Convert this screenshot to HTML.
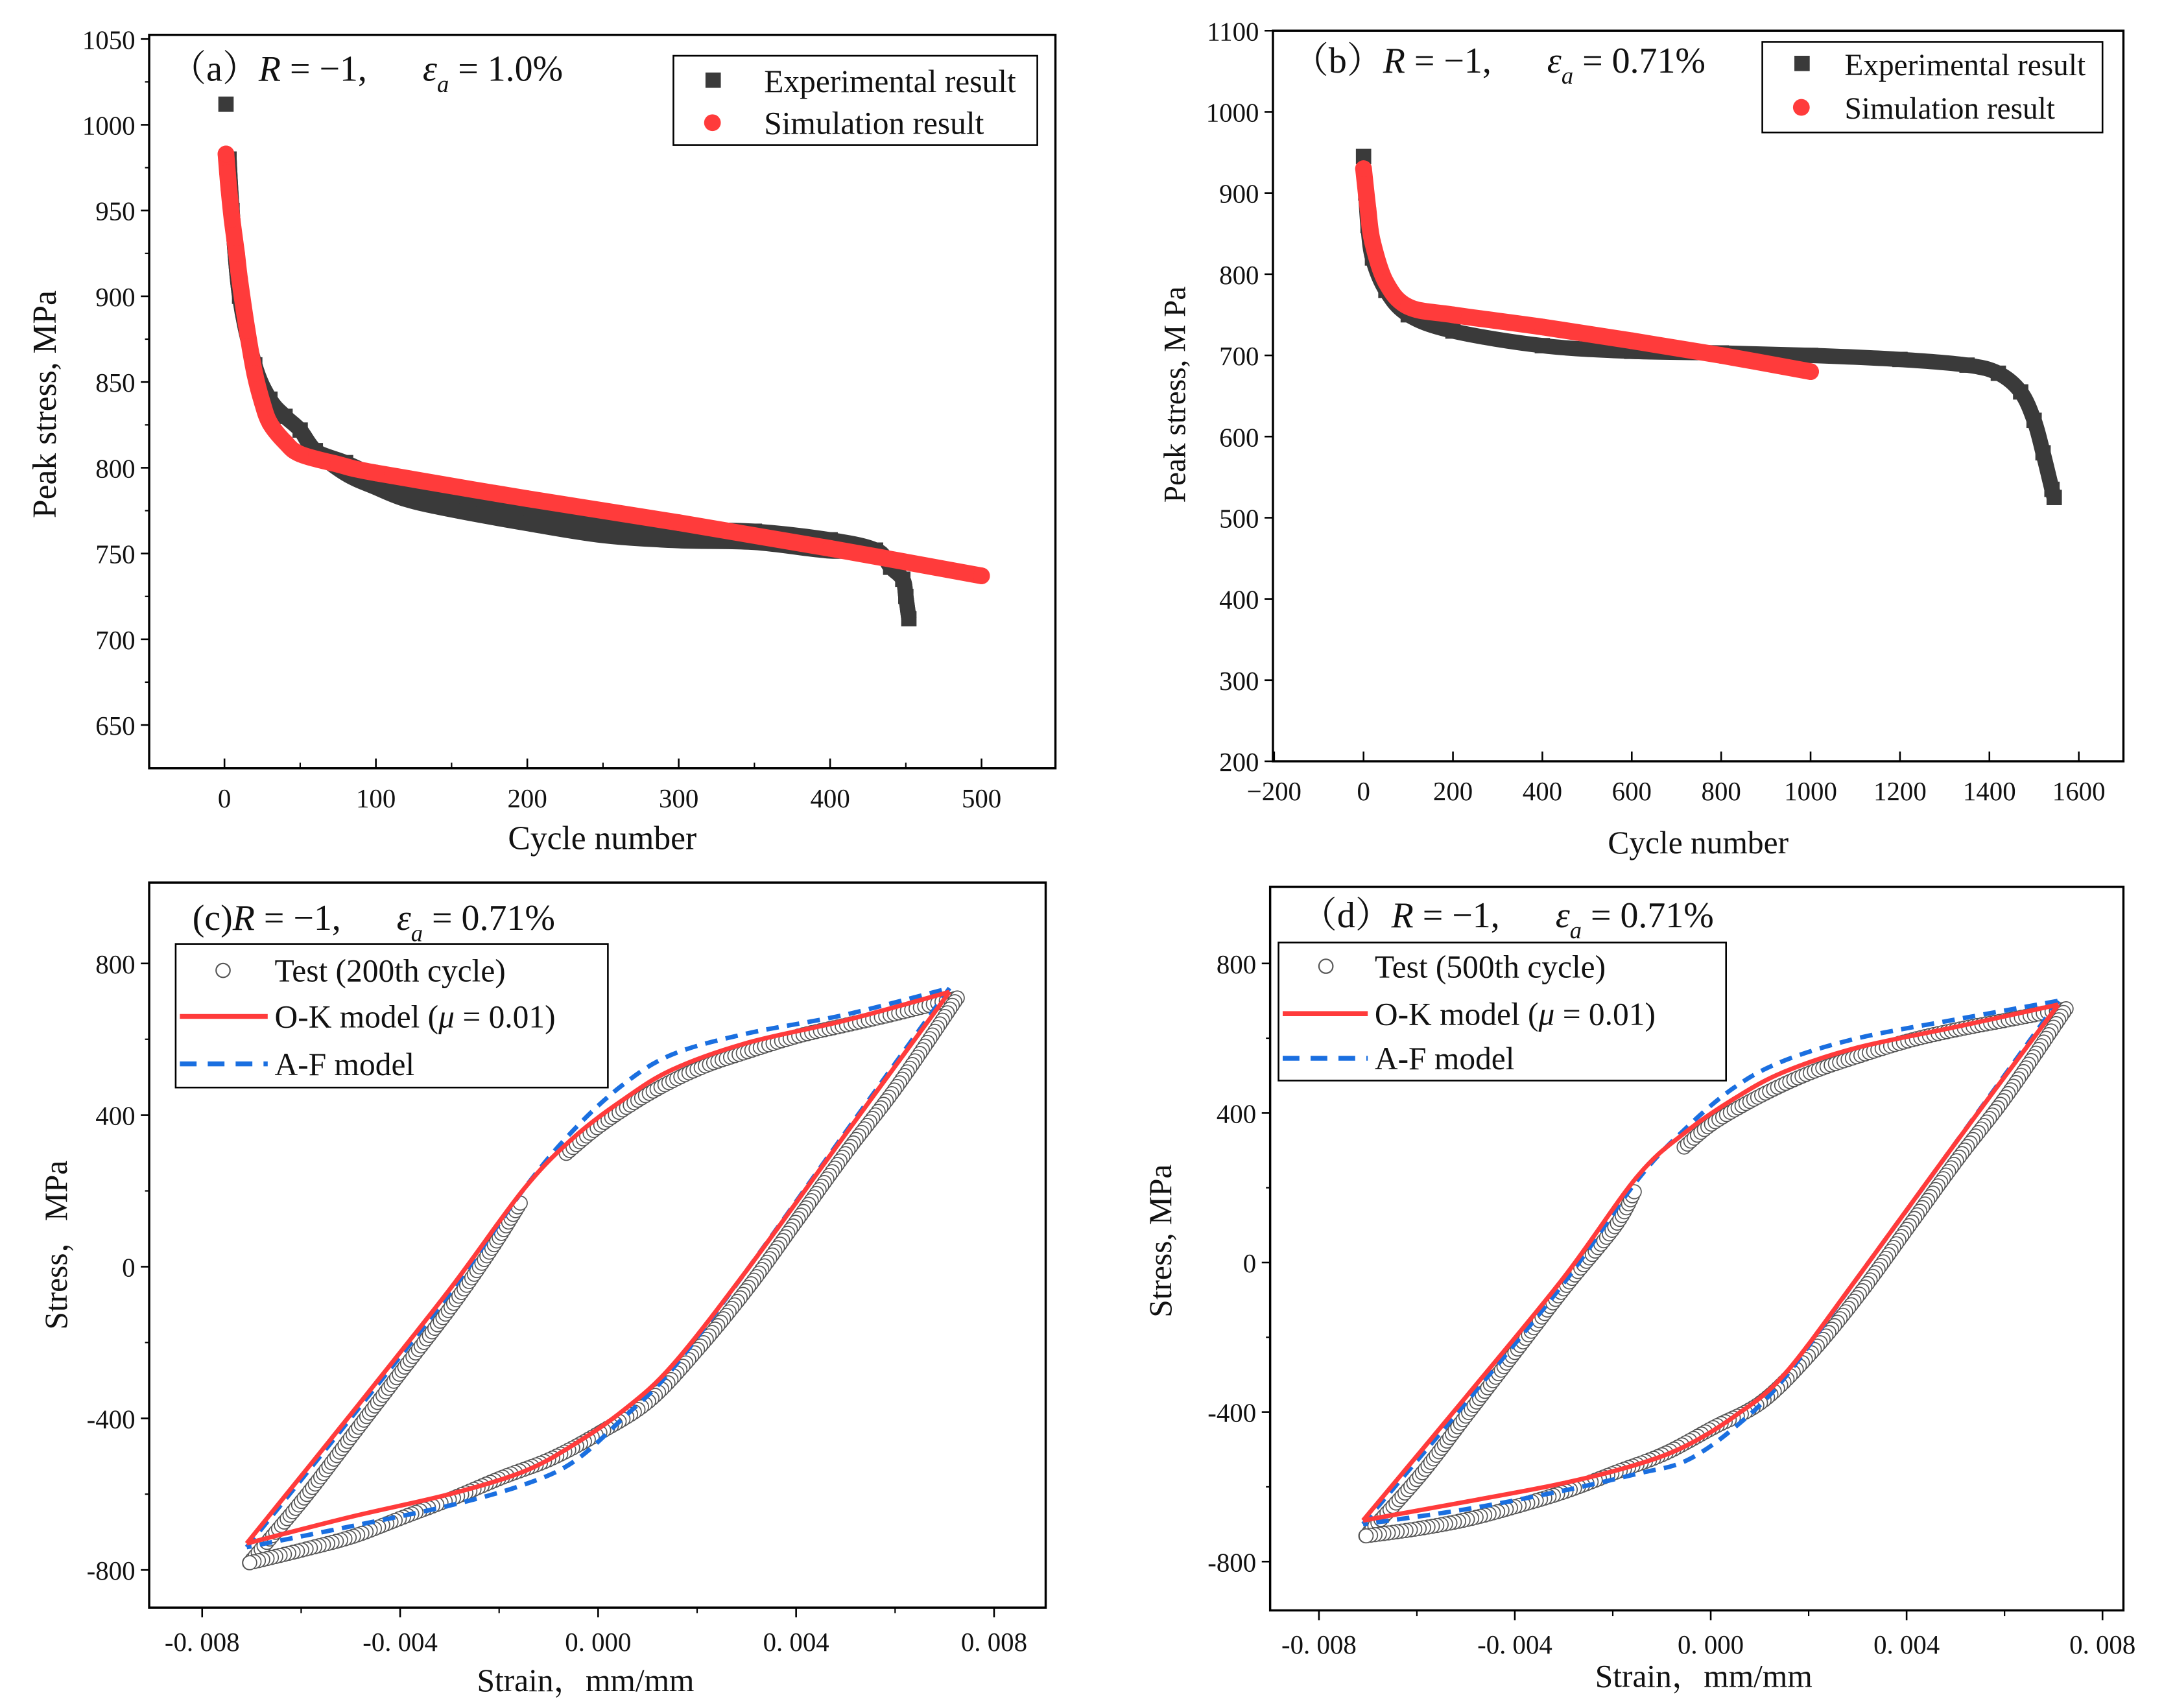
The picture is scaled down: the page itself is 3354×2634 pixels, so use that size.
<!DOCTYPE html>
<html><head><meta charset="utf-8"><style>
html,body{margin:0;padding:0;background:#fff;}
svg{display:block;}
text{font-family:"Liberation Serif","Noto Serif CJK SC",serif;fill:#111;}
</style></head><body>
<svg id="fig" width="3354" height="2634" viewBox="0 0 1560 1225" preserveAspectRatio="none" xmlns="http://www.w3.org/2000/svg">
<rect width="1560" height="1225" fill="#fff"/>
</svg>
<script>
// ---- Panel (a) data ----
const aExpCycles = [1,3,5,10,20,30,40,50,60,80,100,120,150,200,250,300,350,400,430,440,448,450,452];
const aExpStress = [1012,980,950,900,860,840,830,822,810,803,795,788,782,774,767,764,763,758,752,742,735,725,712];
const aSimCycles = [1,2,3,5,8,10,15,20,25,30,40,50,75,100,200,300,400,500];
const aSimStress = [983,972,962,945,925,910,880,855,838,826,815,808,802,797,782,768,753,737];
const aYTicks = [650,700,750,800,850,900,950,1000,1050];
const aXTicks = [0,100,200,300,400,500];
// ---- Panel (b) data ----
const bExpCycles = [0,5,10,20,50,100,200,400,600,800,1000,1200,1350,1420,1470,1500,1520,1540,1545];
const bExpStress = [945,900,860,820,780,750,730,712,705,703,700,695,688,678,655,620,580,535,525];
const bSimCycles = [0,10,20,50,100,200,400,600,800,1000];
const bSimStress = [930,880,840,790,760,750,735,718,700,680];
const bYTicks = [200,300,400,500,600,700,800,900,1000,1100];
const bXTicks = [-200,0,200,400,600,800,1000,1200,1400,1600];
// ---- Panel (c) data ----
const cTestStrain = [-0.0071,-0.006,-0.005,-0.004,-0.003,-0.0022,-0.0016,null,-0.0007,0,0.001,0.002,0.003,0.004,0.005,0.006,0.0072,0.006,0.005,0.004,0.003,0.002,0.001,0,-0.001,-0.002,-0.003,-0.004,-0.005,-0.006,-0.0071];
const cTestStress = [-770,-600,-430,-260,-90,60,185,null,310,385,470,535,580,620,650,680,720,490,320,140,-40,-200,-340,-425,-495,-545,-600,-650,-700,-735,-770];
const cOKStrain = [-0.0071,-0.005,-0.003,-0.0015,-0.0005,0.0005,0.0015,0.003,0.005,0.0071,0.005,0.003,0.0015,0.0005,-0.0005,-0.0015,-0.003,-0.005,-0.0071];
const cOKStress = [-730,-390,-60,205,340,440,520,590,650,725,350,-10,-260,-380,-470,-540,-600,-660,-730];
const cAFStrain = [-0.0071,-0.005,-0.003,-0.0015,-0.0005,0.0005,0.0015,0.003,0.005,0.0071,0.005,0.003,0.0015,0.0005,-0.0005,-0.0015,-0.003,-0.005,-0.0071];
const cAFStress = [-740,-400,-70,205,360,480,560,615,665,735,355,-10,-270,-400,-515,-575,-630,-685,-740];
// ---- Panel (d) data ----
const dTestStrain = [-0.0071,-0.006,-0.005,-0.004,-0.003,-0.002,-0.0016,null,-0.0006,0,0.001,0.002,0.003,0.004,0.005,0.006,0.0072,0.006,0.005,0.004,0.003,0.002,0.001,0,-0.001,-0.002,-0.003,-0.004,-0.005,-0.006,-0.0071];
const dTestStress = [-720,-560,-390,-220,-50,110,205,null,320,385,460,520,565,605,635,660,690,460,290,110,-70,-230,-360,-430,-500,-550,-600,-640,-675,-700,-720];
const dOKStrain = [-0.0071,-0.005,-0.003,-0.0015,-0.0005,0.0005,0.0015,0.003,0.005,0.0071,0.005,0.003,0.0015,0.0005,-0.0005,-0.0015,-0.003,-0.005,-0.0071];
const dOKStress = [-690,-360,-40,230,350,440,510,575,630,690,320,-40,-300,-410,-490,-540,-590,-640,-690];
const dAFStrain = [-0.0071,-0.005,-0.003,-0.0015,-0.0005,0.0005,0.0015,0.003,0.005,0.0071,0.005,0.003,0.0015,0.0005,-0.0005,-0.0015,-0.003,-0.005,-0.0071];
const dAFStress = [-700,-375,-55,220,360,470,540,600,650,700,320,-40,-310,-440,-530,-565,-610,-660,-700];
const cdYTicks = [-800,-400,0,400,800];
const cdXTicks = [-0.008,-0.004,0,0.004,0.008];

const NS='http://www.w3.org/2000/svg';
const svg=document.getElementById('fig');
function mk(tag,attrs,parent){const e=document.createElementNS(NS,tag);for(const k in attrs)e.setAttribute(k,attrs[k]);(parent||svg).appendChild(e);return e;}
function txt(s,x,y,size,anchor,parent,name){const t=mk('text',{x:x,y:y,'font-size':size,'text-anchor':anchor||'start'},parent);t.textContent=s;


return t;}
function lin(d0,d1,p0,p1){return v=>p0+(v-d0)*(p1-p0)/(d1-d0);}
// Catmull-Rom smoothing through the given pixel points (rendering only)
function smoothD(p){
  if(p.length<3)return 'M'+p.map(q=>q.join(',')).join(' L');
  let d='M'+p[0][0]+','+p[0][1];
  for(let i=0;i<p.length-1;i++){
    const p0=p[i-1]||p[i],p1=p[i],p2=p[i+1],p3=p[i+2]||p2;
    const t=0.5/3;
    const c1=[p1[0]+(p2[0]-p0[0])*t,p1[1]+(p2[1]-p0[1])*t];
    const c2=[p2[0]-(p3[0]-p1[0])*t,p2[1]-(p3[1]-p1[1])*t];
    d+=' C'+c1.join(',')+' '+c2.join(',')+' '+p2.join(',');
  }
  return d;
}
function splitCorners(s){ // break at sharp reversal (tips) so loops keep corners
  const out=[[s[0]]];
  for(let i=1;i<s.length;i++){
    out[out.length-1].push(s[i]);
    if(i<s.length-1){const a=s[i-1],b=s[i],c=s[i+1];
      if((b[0]-a[0])*(c[0]-b[0])<0){out.push([s[i]]);}}
  }
  return out;
}

function axesFrame(g,L,T,R,B){
  const r=mk('rect',{x:L,y:T,width:R-L,height:B-T,fill:'none',stroke:'#000','stroke-width':1.6},g);
  
  
}
function yTicks(g,L,ticks,ys,fmt,minor){
  ticks.forEach((v,i)=>{mk('line',{x1:L-6,x2:L,y1:ys(v),y2:ys(v),stroke:'#000','stroke-width':1.2},g);
    txt(fmt(v),L-10,ys(v)+7,19,'end',g,'y-tick-label');
    if(minor&&i<ticks.length-1){const m=(v+ticks[i+1])/2;mk('line',{x1:L-3,x2:L,y1:ys(m),y2:ys(m),stroke:'#000','stroke-width':1},g);}});
}
function xTicks(g,B,ticks,xs,fmt,minor){
  ticks.forEach((v,i)=>{mk('line',{x1:xs(v),x2:xs(v),y1:B,y2:B-7,stroke:'#000','stroke-width':1.2},g);
    txt(fmt(v),xs(v),B+28,19,'middle',g,'x-tick-label');
    if(minor&&i<ticks.length-1){const m=(v+ticks[i+1])/2;mk('line',{x1:xs(m),x2:xs(m),y1:B,y2:B-4,stroke:'#000','stroke-width':1},g);}});
}
function pts(X,Y,xs,ys){const segs=[[]];X.forEach((x,i)=>{if(x===null){segs.push([]);return;}segs[segs.length-1].push([xs(x),ys(Y[i])]);});return segs;}
function squaresBand(g,X,Y,xs,ys,name){
  pts(X,Y,xs,ys).forEach(s=>{const pl=mk('path',{d:smoothD(s.slice(1)),fill:'none',stroke:'#3a3a3a','stroke-width':11},g);
    
    
    s.forEach(p=>{const r=mk('rect',{x:p[0]-5.5,y:p[1]-5.5,width:11,height:11,fill:'#3a3a3a'},g);
      
      });});
}
function circlesBand(g,X,Y,xs,ys,name){
  pts(X,Y,xs,ys).forEach(s=>{const pl=mk('path',{d:smoothD(s),fill:'none',stroke:'#ff3b3b','stroke-width':12,'stroke-linecap':'round','stroke-linejoin':'round'},g);
    
    
    s.forEach(p=>{const c=mk('circle',{cx:p[0],cy:p[1],r:6,fill:'#ff3b3b'},g);
      
      });});
}
function openCircles(g,X,Y,xs,ys){
  pts(X,Y,xs,ys).forEach(s=>{
    splitCorners(s).forEach(ss=>{
      const pl=mk('path',{d:smoothD(ss),fill:'none',stroke:'none'},g);
      const len=pl.getTotalLength();
      for(let d=0;d<=len;d+=3.2){const p=pl.getPointAtLength(d);
        const c=mk('circle',{cx:p.x+2,cy:p.y+3,r:5,fill:'#fff',stroke:'#555','stroke-width':0.8},g);
        
        }
    });
  });
}
function lineSeries(g,X,Y,xs,ys,color,dash,name){
  pts(X,Y,xs,ys).forEach(s=>{splitCorners(s).forEach(ss=>{const pl=mk('path',{d:smoothD(ss),fill:'none',stroke:color,'stroke-width':3.2,'stroke-dasharray':dash||'none'},g);
    
    });});
}
function anno(g,x,y,prefix,eps){
  const t=mk('text',{x:x,y:y,'font-size':26},g);
  
  
  t.innerHTML=prefix+'<tspan font-style="italic">R</tspan> = −1,<tspan dx="40" font-style="italic">ε</tspan><tspan font-style="italic" font-size="17" dy="8">a</tspan><tspan dy="-8"> = '+eps+'</tspan>';
}
function group(name){const g=mk('g',{});return g;}

// ===== Panel (a) =====
(function(){
  const g=group('panel-a');
  const L=107,T=25,R=757,B=551;
  const xs=lin(0,500,161,704), ys=lin(650,1050,520,28);
  axesFrame(g,L,T,R,B);
  yTicks(g,L,aYTicks,ys,v=>v,true);
  xTicks(g,B,aXTicks,xs,v=>v,true);
  squaresBand(g,aExpCycles,aExpStress,xs,ys,'experimental');
  const spread=aExpCycles.map((c,i)=>[xs(c),ys(aExpStress[i])+(c>=80&&c<=400?8:0)]).slice(1);
  const lo=mk('path',{d:smoothD(spread),fill:'none',stroke:'#3a3a3a','stroke-width':11},g);
  
  
  circlesBand(g,aSimCycles,aSimStress,xs,ys,'simulation');
  const lg=mk('rect',{x:483,y:40,width:261,height:64,fill:'#fff',stroke:'#000','stroke-width':1.2},g);
  
  mk('rect',{x:506,y:52,width:11,height:11,fill:'#3a3a3a'},g);
  txt('Experimental result',548,66,23,'start',g,'legend-experimental');
  mk('circle',{cx:511,cy:88,r:6,fill:'#ff3b3b'},g);
  txt('Simulation result',548,96,23,'start',g,'legend-simulation');
  anno(g,122,58,'（a）','1.0%');
  const yt=txt('Peak stress, MPa',0,0,24,'middle',g,'y-axis-title');yt.setAttribute('transform','translate(40,290) rotate(-90)');
  txt('Cycle number',432,609,24,'middle',g,'x-axis-title');
})();

// ===== Panel (b) =====
(function(){
  const g=group('panel-b');
  const L=913,T=22,R=1523,B=546;
  const xs=lin(0,1600,978,1491), ys=lin(200,1100,546,22);
  axesFrame(g,L,T,R,B);
  yTicks(g,L,bYTicks,ys,v=>v,false);
  xTicks(g,B,bXTicks,xs,v=>v<0?'−'+(-v):v,false);
  squaresBand(g,bExpCycles,bExpStress,xs,ys,'experimental');
  circlesBand(g,bSimCycles,bSimStress,xs,ys,'simulation');
  const lg=mk('rect',{x:1264,y:30,width:244,height:65,fill:'#fff',stroke:'#000','stroke-width':1.2},g);
  
  mk('rect',{x:1287,y:40,width:11,height:11,fill:'#3a3a3a'},g);
  txt('Experimental result',1323,54,22,'start',g,'legend-experimental');
  mk('circle',{cx:1292,cy:77,r:6,fill:'#ff3b3b'},g);
  txt('Simulation result',1323,85,22,'start',g,'legend-simulation');
  anno(g,927,52,'（b）','0.71%');
  const yt=txt('Peak stress, M Pa',0,0,22,'middle',g,'y-axis-title');yt.setAttribute('transform','translate(850,283) rotate(-90)');
  txt('Cycle number',1218,612,23,'middle',g,'x-axis-title');
})();

function loopPanel(name,L,T,R,B,x0,x1,y0,y1,TS,TY,OKS,OKY,AFS,AFY,leg,legRows,legTx,label,annoPos,yTitle,yPos,xPos){
  const g=group(name);
  const xs=lin(-0.008,0.008,x0,x1), ys=lin(-800,800,y0,y1);
  axesFrame(g,L,T,R,B);
  cdYTicks.forEach((v,i)=>{mk('line',{x1:L-6,x2:L,y1:ys(v),y2:ys(v),stroke:'#000','stroke-width':1.2},g);
    txt(v===0?'0':(v<0?'-'+(-v):v),L-10,ys(v)+7,19,'end',g,'y-tick-label');
    if(i<cdYTicks.length-1){const m=v+200;mk('line',{x1:L-3,x2:L,y1:ys(m),y2:ys(m),stroke:'#000','stroke-width':1},g);}});
  cdXTicks.forEach((v,i)=>{mk('line',{x1:xs(v),x2:xs(v),y1:B,y2:B+7,stroke:'#000','stroke-width':1.2},g);
    const s=(v<0?'-':'')+'0. '+Math.abs(v).toFixed(3).slice(2);
    txt(s,xs(v),B+31,19,'middle',g,'x-tick-label');
    if(i<cdXTicks.length-1){const m=v+0.002;mk('line',{x1:xs(m),x2:xs(m),y1:B,y2:B+4,stroke:'#000','stroke-width':1},g);}});
  openCircles(g,TS,TY,xs,ys);
  lineSeries(g,AFS,AFY,xs,ys,'#1a6fe0','9 6','af-model-line');
  lineSeries(g,OKS,OKY,xs,ys,'#ff3b3b',null,'ok-model-line');
  const lg=mk('rect',{x:leg[0],y:leg[1],width:leg[2],height:leg[3],fill:'#fff',stroke:'#000','stroke-width':1.2},g);
  
  mk('circle',{cx:leg[0]+34,cy:legRows[0],r:5,fill:'#fff',stroke:'#555','stroke-width':1},g);
  txt(label,legTx,legRows[0]+8,23,'start',g,'legend-test');
  mk('line',{x1:leg[0]+3,x2:legTx-5,y1:legRows[1],y2:legRows[1],stroke:'#ff3b3b','stroke-width':3.5},g);
  const ok=txt('',legTx,legRows[1]+8,23,'start',g,'legend-ok-model');
  ok.innerHTML='O-K model (<tspan font-style="italic">μ</tspan> = 0.01)';
  mk('line',{x1:leg[0]+3,x2:legTx-5,y1:legRows[2],y2:legRows[2],stroke:'#1a6fe0','stroke-width':3.5,'stroke-dasharray':'12 8'},g);
  txt('A-F model',legTx,legRows[2]+8,23,'start',g,'legend-af-model');
  anno(g,annoPos[0],annoPos[1],name==='panel-c'?'(c)':'（d）','0.71%');
  const yt=txt(yTitle,0,0,23,'middle',g,'y-axis-title');yt.setAttribute('transform','translate('+yPos[0]+','+yPos[1]+') rotate(-90)');
  txt('Strain，mm/mm',xPos[0],xPos[1],23,'middle',g,'x-axis-title');
}
loopPanel('panel-c',107,633,750,1153,145,713,1126,691,cTestStrain,cTestStress,cOKStrain,cOKStress,cAFStrain,cAFStress,[126,677,310,103],[696,729,763],197,'Test (200th cycle)',[138,667],'Stress，MPa',[48,893],[420,1213]);
loopPanel('panel-d',911,636,1523,1155,946,1508,1120,691,dTestStrain,dTestStress,dOKStrain,dOKStress,dAFStrain,dAFStress,[917,676,321,99],[693,727,759],986,'Test (500th cycle)',[933,665],'Stress, MPa',[840,890],[1222,1210]);
</script>
</body></html>
